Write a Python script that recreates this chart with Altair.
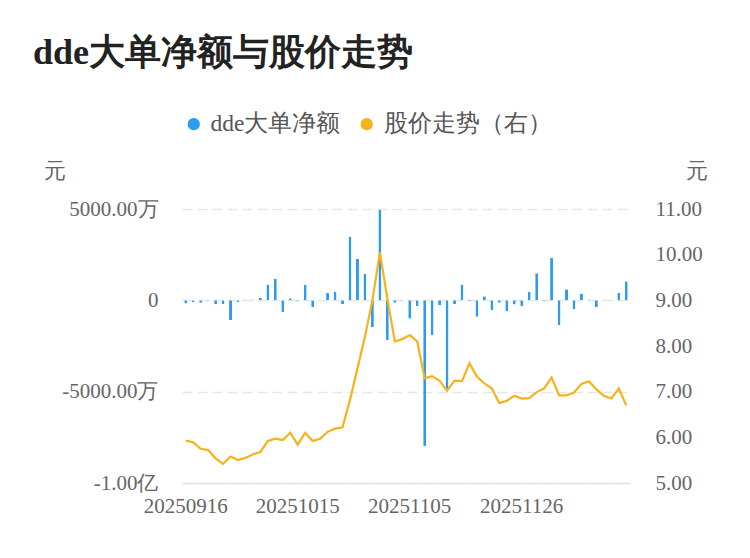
import altair as alt
import pandas as pd

dates = [
    "20250916", "20250917", "20250918", "20250919", "20250922", "20250923", "20250924", "20250925",
    "20250926", "20250929", "20250930", "20251009", "20251010", "20251013", "20251014", "20251015",
    "20251016", "20251017", "20251020", "20251021", "20251022", "20251023", "20251024", "20251027",
    "20251028", "20251029", "20251030", "20251031", "20251103", "20251104", "20251105", "20251106",
    "20251107", "20251110", "20251111", "20251112", "20251113", "20251114", "20251117", "20251118",
    "20251119", "20251120", "20251121", "20251124", "20251125", "20251126", "20251127", "20251128",
    "20251201", "20251202", "20251203", "20251204", "20251205", "20251208", "20251209", "20251210",
    "20251211", "20251212", "20251215", "20251216",
]

# dde net amount, unit: 万元
dde = [
    -180, -90, -130, -40, -220, -220, -1090, -90, 30, 50,
    145, 870, 1180, -635, 110, -70, 870, -360, 20, 400,
    490, -220, 3480, 2280, 1450, -1480, 4950, -2170, -130, -20,
    -1000, -310, -7990, -1900, -270, -4840, -200, 870, -50, -900,
    230, -530, -130, -600, -230, -330, 470, 1480, -30, 2320,
    -1360, 600, -490, 380, 40, -380, 40, 30, 400, 1050,
]

# share price, unit: 元
price = [
    5.93, 5.89, 5.75, 5.72, 5.54, 5.42, 5.58, 5.50, 5.55, 5.63,
    5.68, 5.92, 5.97, 5.94, 6.10, 5.84, 6.10, 5.92, 5.97, 6.12,
    6.19, 6.22, 6.82, 7.51, 8.20, 9.00, 10.05, 9.04, 8.10, 8.15,
    8.24, 8.10, 7.29, 7.34, 7.24, 7.02, 7.24, 7.23, 7.62, 7.33,
    7.18, 7.07, 6.75, 6.80, 6.91, 6.85, 6.86, 6.99, 7.07, 7.31,
    6.92, 6.92, 6.98, 7.17, 7.23, 7.05, 6.91, 6.85, 7.07, 6.70,
]

series_names = ["dde大单净额", "股价走势（右）"]
series_colors = ["#2d9bf0", "#f7b21b"]
x_tick_labels = ["20250916", "20251015", "20251105", "20251126"]
left_ticks = [-10000, -5000, 0, 5000]
right_ticks = [5, 6, 7, 8, 9, 10, 11]

df = pd.DataFrame({"date": dates, "dde": dde, "price": price, "series": series_names[0]})

FONT = "Liberation Serif"
LABEL_COLOR = "#666666"

x_enc = alt.X(
    "date:O",
    sort=None,
    scale=alt.Scale(paddingInner=0, paddingOuter=0),
    axis=alt.Axis(
        values=x_tick_labels,
        labelAngle=0,
        title=None,
        ticks=False,
        labelFont=FONT,
        labelFontSize=21,
        labelColor=LABEL_COLOR,
        labelPadding=12,
        domainColor="#e3e3e3",
        domainWidth=1.5,
        grid=False,
    ),
)

bars = alt.Chart(df).mark_bar(size=3, cornerRadius=1).encode(
    x=x_enc,
    y=alt.Y(
        "dde:Q",
        scale=alt.Scale(domain=[-10000, 5000], nice=False, zero=False),
        axis=alt.Axis(
            values=left_ticks,
            labelExpr="datum.value == 0 ? '0' : datum.value == 5000 ? '5000.00万' : datum.value == -5000 ? '-5000.00万' : '-1.00亿'",
            title="元",
            titleAngle=0,
            titleX=-128,
            titleY=-39,
            titleAlign="center",
            titleBaseline="middle",
            titleFont=FONT,
            titleFontSize=22,
            titleFontWeight="normal",
            titleColor=LABEL_COLOR,
            labelFont=FONT,
            labelFontSize=21,
            labelColor=LABEL_COLOR,
            labelPadding=24,
            ticks=False,
            domain=False,
            grid=True,
            gridDash=[10, 5],
            gridColor="#e6e6e6",
            gridWidth=1.5,
        ),
    ),
    color=alt.Color(
        "series:N",
        scale=alt.Scale(domain=series_names, range=series_colors),
        legend=alt.Legend(
            title=None,
            orient="none",
            direction="horizontal",
            legendX=0,
            legendY=-97,
            symbolType="circle",
            symbolSize=150,
            symbolStrokeWidth=0,
            labelFont=FONT,
            labelFontSize=23.5,
            labelColor="#555555",
            labelOffset=5,
            labelLimit=400,
            columnPadding=14,
        ),
    ),
)

line = alt.Chart(df).mark_line(strokeWidth=2.2, color=series_colors[1]).encode(
    x=x_enc,
    y=alt.Y(
        "price:Q",
        scale=alt.Scale(domain=[5, 11], nice=False, zero=False),
        axis=alt.Axis(
            orient="right",
            values=right_ticks,
            format=".2f",
            title="元",
            titleAngle=0,
            titleX=66,
            titleY=-39,
            titleAlign="center",
            titleBaseline="middle",
            titleFont=FONT,
            titleFontSize=22,
            titleFontWeight="normal",
            titleColor=LABEL_COLOR,
            labelFont=FONT,
            labelFontSize=21,
            labelColor=LABEL_COLOR,
            labelPadding=25,
            ticks=False,
            domain=False,
            grid=False,
        ),
    ),
)

chart = (
    alt.layer(bars, line)
    .resolve_scale(y="independent")
    .properties(
        width=448,
        height=274,
        background="white",
        autosize=alt.AutoSizeParams(type="none"),
        padding={"left": 174, "top": 201, "right": 110, "bottom": 50},
        title=alt.TitleParams(
            "dde大单净额与股价走势",
            anchor="start",
            frame="group",
            font=FONT,
            fontSize=36,
            fontWeight="bold",
            color="#222222",
            dx=-149,
            dy=-40,
            offset=0,
        ),
    )
    .configure_view(stroke=None, strokeWidth=0)
)

chart.save("out.html", embed_options={"renderer": "svg", "actions": False})
